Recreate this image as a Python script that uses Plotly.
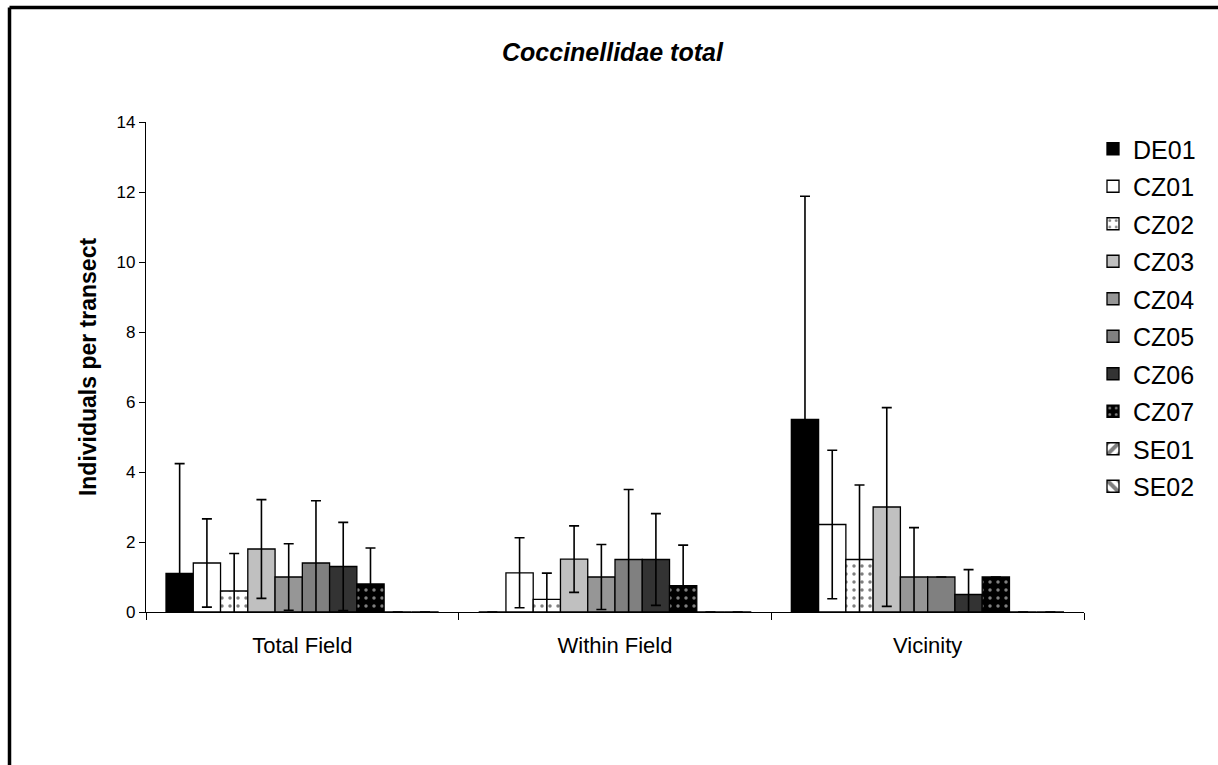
import plotly.graph_objects as go

# Survey data: mean Coccinellidae individuals per transect with standard deviation
categories = ["Total Field", "Within Field", "Vicinity"]
sites = ["DE01", "CZ01", "CZ02", "CZ03", "CZ04", "CZ05", "CZ06", "CZ07", "SE01", "SE02"]

means = {
    "DE01": [1.1, 0.0, 5.5],
    "CZ01": [1.4, 1.12, 2.5],
    "CZ02": [0.6, 0.36, 1.5],
    "CZ03": [1.8, 1.51, 3.0],
    "CZ04": [1.0, 1.0, 1.0],
    "CZ05": [1.4, 1.5, 1.0],
    "CZ06": [1.3, 1.5, 0.5],
    "CZ07": [0.8, 0.75, 1.0],
    "SE01": [0.0, 0.0, 0.0],
    "SE02": [0.0, 0.0, 0.0],
}
std_dev = {
    "DE01": [3.14, 0.0, 6.38],
    "CZ01": [1.26, 1.0, 2.12],
    "CZ02": [1.07, 0.75, 2.13],
    "CZ03": [1.41, 0.95, 2.84],
    "CZ04": [0.95, 0.93, 1.41],
    "CZ05": [1.78, 2.0, 0.0],
    "CZ06": [1.26, 1.31, 0.71],
    "CZ07": [1.03, 1.16, 0.0],
    "SE01": [0.0, 0.0, 0.0],
    "SE02": [0.0, 0.0, 0.0],
}

# Fill styles per site (greyscale with hatch patterns)
styles = {
    "DE01": dict(color="#000000"),
    "CZ01": dict(color="#ffffff"),
    "CZ02": dict(color="#ffffff", pattern=dict(shape=".", fgcolor="#000000", bgcolor="#ffffff",
                                               size=8, solidity=0.15, fillmode="overlay")),
    "CZ03": dict(color="#c0c0c0"),
    "CZ04": dict(color="#969696"),
    "CZ05": dict(color="#808080"),
    "CZ06": dict(color="#333333"),
    "CZ07": dict(color="#000000", pattern=dict(shape=".", fgcolor="#ffffff", bgcolor="#000000",
                                               size=8, solidity=0.15, fillmode="overlay")),
    "SE01": dict(color="#ffffff", pattern=dict(shape="/", fgcolor="#000000", bgcolor="#ffffff",
                                               size=12, solidity=0.5, fillmode="overlay")),
    "SE02": dict(color="#ffffff", pattern=dict(shape="\\", fgcolor="#000000", bgcolor="#ffffff",
                                               size=12, solidity=0.5, fillmode="overlay")),
}

W, H = 1218, 765
ML, MR, MT, MB = 146, 134, 122, 153
PW, PH = W - ML - MR, H - MT - MB
FONT = "Liberation Sans, Arial, sans-serif"


def px_x(p):
    return (p - ML) / PW


def px_y(p):
    return (H - MB - p) / PH


fig = go.Figure()
for s in sites:
    st = styles[s]
    marker = dict(color=st["color"], line=dict(color="#000000", width=1.3))
    if "pattern" in st:
        marker["pattern"] = st["pattern"]
    fig.add_trace(go.Bar(
        name=s,
        x=categories,
        y=means[s],
        marker=marker,
        legendgroup=s,
        error_y=dict(type="data", array=std_dev[s], symmetric=True,
                     color="#000000", thickness=1.6, width=5),
    ))

fig.update_layout(
    width=W, height=H,
    margin=dict(l=ML, r=MR, t=MT, b=MB, autoexpand=False),
    paper_bgcolor="#ffffff",
    plot_bgcolor="#ffffff",
    barmode="group",
    bargap=0.128,
    bargroupgap=0,
    font=dict(family=FONT, color="#000000"),
    showlegend=True,
    legend=dict(
        x=px_x(1093), xanchor="left",
        y=px_y(126), yanchor="top",
        font=dict(size=25, family=FONT),
        tracegroupgap=2,
        bgcolor="rgba(0,0,0,0)",
        itemclick=False,
    ),
    xaxis=dict(
        type="category",
        showline=True, linecolor="#000000", linewidth=1.2,
        ticks="outside", tickson="boundaries", ticklen=7, tickcolor="#000000", tickwidth=1.2,
        tickfont=dict(size=22, family=FONT),
        ticklabelstandoff=13,
        showgrid=False, zeroline=False,
    ),
    yaxis=dict(
        range=[0, 14], dtick=2,
        showline=True, linecolor="#000000", linewidth=1.2,
        ticks="outside", ticklen=6, tickcolor="#000000", tickwidth=1.2,
        tickfont=dict(size=17, family=FONT),
        showgrid=False, zeroline=False,
        title=dict(text="<b>Individuals per transect</b>",
                   font=dict(size=23, family=FONT), standoff=13),
    ),
    annotations=[
        dict(text="<b><i>Coccinellidae total</i></b>", xref="paper", yref="paper",
             x=px_x(613), y=px_y(52), xanchor="center", yanchor="middle",
             showarrow=False, font=dict(size=25, family=FONT)),
    ],
    shapes=[
        # chart frame (left and top edges)
        dict(type="line", xref="paper", yref="paper",
             x0=px_x(9.5), x1=px_x(9.5), y0=px_y(7.5), y1=px_y(H + 10),
             line=dict(color="#000000", width=3.5)),
        dict(type="line", xref="paper", yref="paper",
             x0=px_x(9.5), x1=px_x(W + 10), y0=px_y(7.5), y1=px_y(7.5),
             line=dict(color="#000000", width=3.5)),
    ],
)

fig.write_html("out.html")
